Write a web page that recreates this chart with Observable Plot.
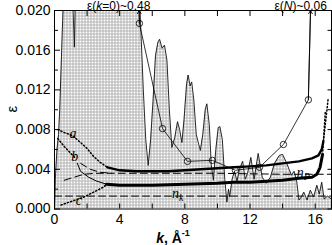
<!DOCTYPE html>
<html><head><meta charset="utf-8">
<script src="https://cdn.jsdelivr.net/npm/d3@7"></script>
<script src="https://cdn.jsdelivr.net/npm/@observablehq/plot@0.6"></script>
<style>html,body{margin:0;padding:0;background:#fff}svg{display:block}</style>
</head><body><div id="chart"></div>
<script>
// oscillating curve (filled beneath with grid pattern)
const oscK = [0, 0.05, 0.15, 0.25, 0.32, 0.40, 0.50, 0.60, 1.10, 1.13, 1.22, 1.27, 1.30, 5.05, 5.25, 5.45, 5.60, 5.75, 5.90, 6.05, 6.20, 6.35, 6.45, 6.60, 6.75, 6.90, 7.05, 7.20, 7.38, 7.55, 7.68, 7.82, 7.95, 8.10, 8.20, 8.32, 8.42, 8.55, 8.70, 8.95, 9.10, 9.25, 9.35, 9.50, 9.62, 9.75, 9.90, 10.05, 10.15, 10.30, 10.45, 10.58, 10.68, 10.75, 10.90, 11.05, 11.20, 11.35, 11.55, 11.70, 11.85, 12.05, 12.25, 12.50, 12.75, 13.00, 13.25, 13.50, 13.80, 14.00, 14.20, 14.40, 14.55, 14.70, 14.85, 15.00, 15.15, 15.30, 15.50, 15.70, 15.90, 16.10, 16.25, 16.40, 16.55, 16.75, 17.00];
const oscE = [0.0000, 0.0030, 0.0060, 0.0075, 0.0100, 0.0140, 0.0190, 0.0240, 0.0240, 0.0205, 0.0163, 0.0205, 0.0240, 0.0240, 0.0200, 0.0120, 0.0070, 0.0044, 0.0070, 0.0110, 0.0155, 0.0168, 0.0171, 0.0162, 0.0165, 0.0150, 0.0100, 0.0062, 0.0072, 0.0088, 0.0080, 0.0067, 0.0090, 0.0125, 0.0135, 0.0124, 0.0128, 0.0110, 0.0075, 0.0059, 0.0075, 0.0100, 0.0106, 0.0085, 0.0045, 0.0029, 0.0060, 0.0082, 0.0083, 0.0070, 0.0030, 0.0007, 0.0020, 0.0012, 0.0030, 0.0038, 0.0028, 0.0040, 0.0048, 0.0030, 0.0036, 0.0052, 0.0030, 0.0056, 0.0032, 0.0026, 0.0032, 0.0046, 0.0054, 0.0055, 0.0048, 0.0040, 0.0034, 0.0038, 0.0030, 0.0009, 0.0012, 0.0017, 0.0009, 0.0019, 0.0012, 0.0024, 0.0015, 0.0027, 0.0010, 0.0013, 0.0010];

// line with open circles
const circK = [0, 5.21, 6.63, 8.16, 9.69, 11.10, 12.58, 14.05, 15.58, 16.30];
const circE = [0.48, 0.0187, 0.0081, 0.0048, 0.0049, 0.0039, 0.0042, 0.0065, 0.0110, 0.06];

// curve a (upper thick): dotted start, solid, dotted end
const aDotK = [0.20, 0.60, 1.10, 1.60, 2.00, 2.40, 2.80, 3.25];
const aDotE = [0.0080, 0.0077, 0.0074, 0.0067, 0.0061, 0.0053, 0.0047, 0.0042];
const aK = [3.25, 4.0, 5.0, 6.0, 7.0, 8.0, 9.0, 10.0, 11.0, 12.0, 13.0, 14.0, 15.0, 15.8, 16.2, 16.4, 16.5];
const aE = [0.0042, 0.0039, 0.0038, 0.0038, 0.0038, 0.0039, 0.0040, 0.0041, 0.0042, 0.0043, 0.0044, 0.0046, 0.0048, 0.0051, 0.0054, 0.0060, 0.0068];
const aEndK = [16.5, 16.62, 16.72, 16.80];
const aEndE = [0.0068, 0.0085, 0.0100, 0.0112];

// lower thick curve and its branches
const lowK = [3.2, 4.0, 6.0, 8.0, 10.0, 11.0, 12.0, 13.0, 14.0, 15.0, 15.8, 16.1, 16.3, 16.45];
const lowE = [0.0025, 0.0024, 0.0024, 0.0025, 0.0026, 0.0027, 0.0027, 0.0028, 0.0029, 0.0031, 0.0032, 0.0035, 0.0042, 0.0055];
const lowEndK = [16.45, 16.55, 16.62];
const lowEndE = [0.0055, 0.0080, 0.0098];
const cK = [0.40, 1.10, 1.80, 2.40, 3.00, 3.20];
const cE = [0.0004, 0.0008, 0.0012, 0.0017, 0.0022, 0.0025];
const bK = [0.20, 0.60, 1.00, 1.30];
const bE = [0.0071, 0.0063, 0.0056, 0.0051];
const bSolidK = [1.40, 1.60, 2.10, 2.60, 3.20];
const bSolidE = [0.0046, 0.0038, 0.0032, 0.0028, 0.0025];
const bDashK = [1.60, 2.20, 2.80, 3.50];
const bDashE = [0.0046, 0.0040, 0.0037, 0.0036];

// dashed reference levels n_p and n_k
const npK = [0.60, 1.20, 1.80, 2.50, 6.0, 10.0, 14.0, 17.0];
const npE = [0.0029, 0.0032, 0.0035, 0.0036, 0.0036, 0.0036, 0.0035, 0.0035];
const nkK = [0, 17];
const nkE = [0.0013, 0.0013];

// ticks
const xTicks = [0, 2, 4, 6, 8, 10, 12, 14, 16];
const xLabels = [0, 4, 8, 12, 16];
const yMajor = [0, 0.004, 0.008, 0.012, 0.016, 0.020];
const yMinor = [0.002, 0.006, 0.010, 0.014, 0.018];

const pts = (ks, es) => ks.map((k, i) => ({k, e: es[i]}));
const osc = pts(oscK, oscE);
const circ = pts(circK, circE);
const yMax = 0.02;
// arrows where the circle-line leaves the top of the frame
function exitPoint(p, q) {
  const t = (yMax - p.e) / (q.e - p.e);
  return {k: p.k + t * (q.k - p.k), e: yMax};
}
const arrows = [
  {from: circ[1], to: exitPoint(circ[1], circ[0])},
  {from: circ[circ.length - 2], to: exitPoint(circ[circ.length - 2], circ[circ.length - 1])}
];

const dotted = {stroke: "black", strokeWidth: 1.5, strokeDasharray: "1.2,2.2", clip: true};
const dashed = {stroke: "black", strokeWidth: 1, strokeDasharray: "7,4", clip: true};
const noLab = {label: null};

const chart = Plot.plot({
  width: 332, height: 245,
  marginLeft: 54, marginRight: 1, marginTop: 10, marginBottom: 36.5,
  x: {domain: [0, 17], label: null},
  y: {domain: [0, yMax], label: null},
  style: {fontFamily: "'Liberation Sans', Arial, sans-serif", background: "white", color: "black"},
  marks: [
    Plot.areaY(osc, {x: "k", y: "e", fill: "url(#gridpat)", clip: true}),
    Plot.lineY(osc, {x: "k", y: "e", stroke: "#111", strokeWidth: 0.9, clip: true}),
    Plot.line(pts(nkK, nkE), {x: "k", y: "e", ...dashed}),
    Plot.line(pts(npK, npE), {x: "k", y: "e", ...dashed}),
    Plot.line(pts(bDashK, bDashE), {x: "k", y: "e", ...dashed}),
    Plot.line(pts(aDotK, aDotE), {x: "k", y: "e", ...dotted}),
    Plot.line(pts(aEndK, aEndE), {x: "k", y: "e", ...dotted}),
    Plot.line(pts(bK, bE), {x: "k", y: "e", ...dotted}),
    Plot.line(pts(cK, cE), {x: "k", y: "e", ...dotted}),
    Plot.line(pts(lowEndK, lowEndE), {x: "k", y: "e", ...dotted}),
    Plot.line(pts(bSolidK, bSolidE), {x: "k", y: "e", stroke: "black", strokeWidth: 1, clip: true}),
    Plot.line(pts(aK, aE), {x: "k", y: "e", stroke: "black", strokeWidth: 2.4, clip: true}),
    Plot.line(pts(lowK, lowE), {x: "k", y: "e", stroke: "black", strokeWidth: 3, clip: true}),
    Plot.line(circ, {x: "k", y: "e", stroke: "black", strokeWidth: 0.8, clip: true}),
    Plot.dot(circ.filter(d => d.e <= yMax), {x: "k", y: "e", r: 3.2, stroke: "black", strokeWidth: 0.8, fill: "none"}),
    Plot.arrow(arrows, {x1: d => d.from.k, y1: d => d.from.e, x2: d => d.to.k, y2: d => d.to.e, stroke: "black", strokeWidth: 0.9, headLength: 6}),
    Plot.frame({stroke: "black", strokeWidth: 1}),
    Plot.axisX(xTicks, {anchor: "bottom", tickSize: -5, tickFormat: () => "", ...noLab}),
    Plot.axisX(xTicks, {anchor: "top", tickSize: -5, tickFormat: () => "", ...noLab}),
    Plot.axisX(xLabels, {anchor: "bottom", tickSize: 0, tickPadding: 5, fontSize: 14, tickFormat: d => String(d), ...noLab}),
    Plot.axisY(yMajor, {anchor: "left", tickSize: -6, tickFormat: () => "", ...noLab}),
    Plot.axisY(yMinor, {anchor: "left", tickSize: -4, tickFormat: () => "", ...noLab}),
    Plot.axisY(yMajor.concat(yMinor), {anchor: "right", tickSize: -4.5, tickFormat: () => "", ...noLab}),
    Plot.axisY(yMajor, {anchor: "left", tickSize: 0, tickPadding: 4, fontSize: 14, tickFormat: d3.format(".3f"), ...noLab})
  ]
});

const svg = d3.select(chart);
const defs = svg.insert("defs", ":first-child");
const pat = defs.append("pattern").attr("id", "gridpat").attr("patternUnits", "userSpaceOnUse")
  .attr("width", 3).attr("height", 3).attr("x", 0.5).attr("y", 0.5);
pat.append("rect").attr("width", 3).attr("height", 3).attr("fill", "#b2b2b2");
pat.append("rect").attr("x", 1).attr("y", 1).attr("width", 2).attr("height", 2).attr("fill", "#ffffff");

const X = chart.scale("x"), Y = chart.scale("y");
const sans = "'Liberation Sans', Arial, sans-serif";
const serif = "'Liberation Serif', 'Times New Roman', serif";

// top annotations
function topLabel(x, pre, it, post) {
  const t = svg.append("text").attr("x", x).attr("y", 9.5).attr("text-anchor", "end")
    .attr("font-family", sans).attr("font-size", 12).attr("fill", "black");
  t.append("tspan").text(pre);
  t.append("tspan").attr("font-style", "italic").text(it);
  t.append("tspan").text(post);
}
topLabel(X.apply(circ[1].k) + 11.5, "ε(", "k", "=0)~0.48");
topLabel(X.apply(circ[circ.length - 2].k) + 19, "ε(", "N", ")~0.06");

// y title
svg.append("text").attr("transform", `translate(17,${Y.apply(0.010)}) rotate(-90)`)
  .attr("text-anchor", "middle").attr("font-family", sans).attr("font-size", 15).text("ε");

// x title
const xt = svg.append("text").attr("x", 173).attr("y", 242.5).attr("font-family", sans)
  .attr("font-size", 14).attr("font-weight", "bold");
xt.append("tspan").attr("font-style", "italic").text("k");
xt.append("tspan").text(", Å");
xt.append("tspan").attr("font-size", 9).attr("dy", -7).text("-1");

// curve labels
function curveLabel(k, e, main, sub) {
  const t = svg.append("text").attr("x", X.apply(k)).attr("y", Y.apply(e))
    .attr("font-family", serif).attr("font-style", "italic").attr("font-size", 14).attr("fill", "black");
  t.append("tspan").text(main);
  if (sub) t.append("tspan").attr("font-size", 10).attr("dy", 3).text(sub);
}
curveLabel(1.17, 0.0071, "a");
curveLabel(1.27, 0.0048, "b");
curveLabel(1.53, 0.00035, "c");
curveLabel(7.6, 0.0011, "n", "k");
curveLabel(15.3, 0.0032, "n", "P");

document.getElementById("chart").appendChild(chart);
</script>
</body></html>
